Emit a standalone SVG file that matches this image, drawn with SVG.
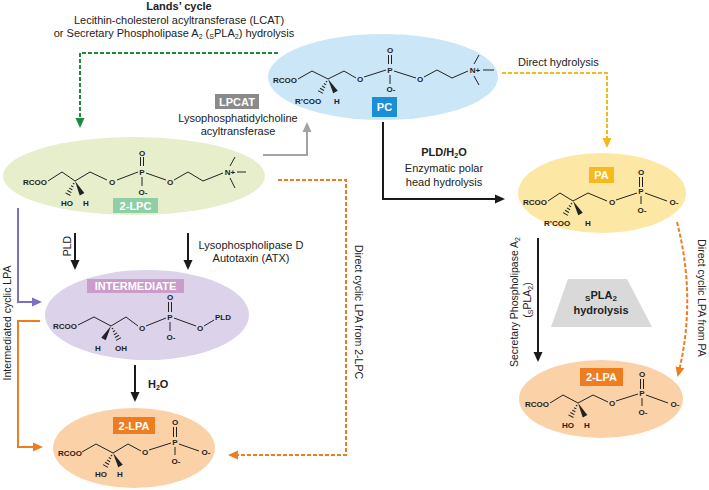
<svg xmlns="http://www.w3.org/2000/svg" xmlns:xlink="http://www.w3.org/1999/xlink" width="709" height="490" viewBox="0 0 709 490">
<style>
.t{font-family:"Liberation Sans",Arial,sans-serif;font-size:11px;fill:#222}
.tb{font-family:"Liberation Sans",Arial,sans-serif;font-size:11px;font-weight:bold;fill:#222}
.v{font-family:"Liberation Sans",Arial,sans-serif;font-size:10.5px;fill:#222}
.m{font-family:"Liberation Sans",Arial,sans-serif;font-size:8px;font-weight:bold;fill:#222;text-anchor:middle}
.ms{font-family:"Liberation Sans",Arial,sans-serif;font-size:8px;font-weight:bold;fill:#222}
.lb{font-family:"Liberation Sans",Arial,sans-serif;font-size:11px;font-weight:bold;fill:#fff;text-anchor:middle}
.b{fill:none;stroke:#222;stroke-width:1}
.c{fill:none;stroke-width:2}
.d{fill:none;stroke-width:2;stroke-dasharray:4 2}
</style>
<defs>
<marker id="aK" viewBox="0 0 10 10" refX="8" refY="5" markerWidth="10" markerHeight="10" markerUnits="userSpaceOnUse" orient="auto"><path d="M0,0.5 L10,5 L0,9.5 z" fill="#1a1a1a"/></marker>
<marker id="aG" viewBox="0 0 10 10" refX="8" refY="5" markerWidth="10" markerHeight="10" markerUnits="userSpaceOnUse" orient="auto"><path d="M0,0.5 L10,5 L0,9.5 z" fill="#a3a3a3"/></marker>
<marker id="aN" viewBox="0 0 10 10" refX="8" refY="5" markerWidth="10" markerHeight="10" markerUnits="userSpaceOnUse" orient="auto"><path d="M0,0.5 L10,5 L0,9.5 z" fill="#1b8c3c"/></marker>
<marker id="aY" viewBox="0 0 10 10" refX="8" refY="5" markerWidth="10" markerHeight="10" markerUnits="userSpaceOnUse" orient="auto"><path d="M0,0.5 L10,5 L0,9.5 z" fill="#f2b81c"/></marker>
<marker id="aO" viewBox="0 0 10 10" refX="8" refY="5" markerWidth="10" markerHeight="10" markerUnits="userSpaceOnUse" orient="auto"><path d="M0,0.5 L10,5 L0,9.5 z" fill="#ee7d22"/></marker>
<marker id="aP" viewBox="0 0 10 10" refX="8" refY="5" markerWidth="10" markerHeight="10" markerUnits="userSpaceOnUse" orient="auto"><path d="M0,0.5 L10,5 L0,9.5 z" fill="#7d70c0"/></marker>
<path id="hw" d="M-0.8,3 H0.8 M-1.3,6 H1.3 M-1.8,9 H1.8 M-2.3,12 H2.3 M-2.8,15 H2.8" stroke="#222" stroke-width="1" fill="none"/>
<polygon id="bw" points="0,0 -2.6,15 2.6,15" fill="#222"/>
</defs>

<!-- top texts -->
<g id="top-labels">
<text class="tb" x="179" y="10" text-anchor="middle">Lands’ cycle</text>
<text class="t" x="179" y="24" text-anchor="middle">Lecithin-cholesterol acyltransferase (LCAT)</text>
<text class="t" x="174" y="37" text-anchor="middle">or Secretary Phospholipase A<tspan font-size="7" dy="2">2</tspan><tspan dy="-2"> (</tspan><tspan font-size="7" dy="2">S</tspan><tspan dy="-2">PLA</tspan><tspan font-size="7" dy="2">2</tspan><tspan dy="-2">) hydrolysis</tspan></text>
</g>

<g id="connectors">
<path class="d" stroke="#1b8c3c" d="M278,53 H80 V126" marker-end="url(#aN)"/>
<path class="d" stroke="#f2b81c" d="M502,73 H607 V146" marker-end="url(#aY)"/>
<path class="d" stroke="#ee7d22" d="M278,180 H346 V455 H230" marker-end="url(#aO)"/>
<path class="d" stroke="#ee7d22" d="M677,222 Q697,300 678,375" marker-end="url(#aO)"/>
<path class="c" stroke="#a3a3a3" d="M263,155 H307 V124" marker-end="url(#aG)"/>
<path class="c" stroke="#7d70c0" d="M18,208 V302 H40" marker-end="url(#aP)"/>
<path class="c" stroke="#ee7d22" d="M40,321 H18 V447 H41" marker-end="url(#aO)"/>
<path class="c" stroke="#1a1a1a" d="M75,233 V268" marker-end="url(#aK)"/>
<path class="c" stroke="#1a1a1a" d="M188,233 V268" marker-end="url(#aK)"/>
<path class="c" stroke="#1a1a1a" d="M135,365 V400" marker-end="url(#aK)"/>
<path class="c" stroke="#1a1a1a" d="M383,122 V199 H503" marker-end="url(#aK)"/>
<path class="c" stroke="#1a1a1a" d="M538,238 V360" marker-end="url(#aK)"/>

<text class="t" x="518" y="66">Direct hydrolysis</text>
<rect x="215" y="94" width="44" height="15" fill="#8a8a8a"/>
<text class="lb" x="237" y="105.5">LPCAT</text>
<text class="t" x="238" y="122" text-anchor="middle">Lysophosphatidylcholine</text>
<text class="t" x="238" y="135" text-anchor="middle">acyltransferase</text>
<text class="tb" x="444" y="156" text-anchor="middle">PLD/H<tspan font-size="7" dy="2">2</tspan><tspan dy="-2">O</tspan></text>
<text class="t" x="444" y="172" text-anchor="middle">Enzymatic polar</text>
<text class="t" x="444" y="186" text-anchor="middle">head hydrolysis</text>
<text class="t" x="251" y="249" text-anchor="middle">Lysophospholipase D</text>
<text class="t" x="251" y="262" text-anchor="middle">Autotaxin (ATX)</text>
<text class="v" transform="translate(71,246) rotate(-90)" text-anchor="middle">PLD</text>
<text class="tb" x="148" y="388">H<tspan font-size="7" dy="2">2</tspan><tspan dy="-2">O</tspan></text>
<text class="v" transform="translate(11,323) rotate(-90)" text-anchor="middle">Intermediated cyclic LPA</text>
<text class="v" transform="translate(355,312) rotate(90)" text-anchor="middle">Direct cyclic LPA from 2-LPC</text>
<text class="v" transform="translate(698,298) rotate(90)" text-anchor="middle">Direct cyclic LPA from PA</text>
<text class="v" transform="translate(518,302) rotate(-90)" text-anchor="middle">Secretary Phospholipase A<tspan font-size="7" dy="2">2</tspan></text>
<text class="v" transform="translate(531,300) rotate(-90)" text-anchor="middle">(<tspan font-size="7" dy="2">S</tspan><tspan dy="-2">PLA</tspan><tspan font-size="7" dy="2">2</tspan><tspan dy="-2">)</tspan></text>
<polygon points="568,279 627,279 652,327 551,327" fill="#d9d9d9"/>
<text class="tb" x="601" y="299" text-anchor="middle" font-size="14"><tspan font-size="8" dy="2">S</tspan><tspan dy="-2">PLA</tspan><tspan font-size="8" dy="2">2</tspan></text>
<text class="tb" x="601" y="314" text-anchor="middle" font-size="14">hydrolysis</text>
</g>

<g id="pc">
<ellipse cx="383" cy="77" rx="115" ry="43" fill="#cbe6f7"/>
<path class="b" d="M298,79 L312,71 L328,79 L344,71 L356,78 M364,77 L386,70 M394,71 L416,78 M424,77 L437,70 L452,78 L468,71 M388.5,55 V64 M391.5,55 V64 M390,75 V84 M474,64 L479,55 M483,70 H494 M474,76 L479,85"/>
<use xlink:href="#hw" href="#hw" transform="translate(328,79) rotate(30)"/>
<use xlink:href="#bw" href="#bw" transform="translate(328,79) rotate(-30)"/>
<text class="ms" x="273" y="83">RCOO</text>
<text class="m" x="360" y="82">O</text>
<text class="m" x="390" y="73">P</text>
<text class="m" x="390" y="53">O</text>
<text class="m" x="391" y="92">O-</text>
<text class="m" x="420" y="82">O</text>
<text class="m" x="475" y="73">N+</text>
<text class="m" x="308" y="104">R’COO</text>
<text class="m" x="337" y="104">H</text>
<rect x="372" y="97" width="25" height="20" fill="#1a8fd6"/>
<text class="lb" x="384.5" y="111" font-size="12">PC</text>
</g>

<g id="lpc">
<ellipse cx="134" cy="176" rx="131" ry="39" fill="#e6eecb"/>
<path class="b" d="M48,181 L62,172 L75,181 L90,172 L107,180 M117,180 L138,172 M146,173 L166,180 M174,180 L188,172 L203,181 L223,173 M140.5,157 V166 M143.5,157 V166 M142,177 V186 M230,166 L235,157 M237,172 H246 M230,178 L235,188"/>
<use xlink:href="#hw" href="#hw" transform="translate(75,181) rotate(28)"/>
<use xlink:href="#bw" href="#bw" transform="translate(75,181) rotate(-28)"/>
<text class="ms" x="23" y="185">RCOO</text>
<text class="m" x="112" y="185">O</text>
<text class="m" x="142" y="175">P</text>
<text class="m" x="142" y="156">O</text>
<text class="m" x="143" y="195">O-</text>
<text class="m" x="170" y="185">O</text>
<text class="m" x="230" y="175">N+</text>
<text class="m" x="67" y="206">HO</text>
<text class="m" x="86" y="206">H</text>
<rect x="113" y="198" width="45" height="15" fill="#8fcfa5"/>
<text class="lb" x="135.5" y="209.5">2-LPC</text>
</g>

<g id="intermediate">
<ellipse cx="147" cy="315" rx="102" ry="45" fill="#dcd2ea"/>
<path class="b" d="M78,325 L94,317 L111,326 L126,317 L138,326 M146,326 L166,318 M174,318 L196,326 M204,326 L214,320 M168.5,302 V312 M171.5,302 V312 M170,322 V331"/>
<use xlink:href="#bw" href="#bw" transform="translate(111,326) rotate(30)"/>
<use xlink:href="#hw" href="#hw" transform="translate(111,326) rotate(-30)"/>
<text class="ms" x="53" y="329">RCOO</text>
<text class="m" x="142" y="331">O</text>
<text class="m" x="170" y="320">P</text>
<text class="m" x="170" y="300">O</text>
<text class="m" x="171" y="340">O-</text>
<text class="m" x="200" y="331">O</text>
<text class="ms" x="215" y="320">PLD</text>
<text class="m" x="98" y="351">H</text>
<text class="m" x="121" y="351">OH</text>
<rect x="87" y="279" width="97" height="14" fill="#c99cc9"/>
<text class="lb" x="135.5" y="290">INTERMEDIATE</text>
</g>

<g id="lpa-left">
<ellipse cx="134" cy="448" rx="81" ry="40" fill="#fbd1a8"/>
<path class="b" d="M82,452 L96,444 L113,453 L128,444 L141,451 M149,450 L171,443 M179,444 L199,451 M173.5,427 V437 M176.5,427 V437 M175,447 V455"/>
<use xlink:href="#hw" href="#hw" transform="translate(113,453) rotate(30)"/>
<use xlink:href="#bw" href="#bw" transform="translate(113,453) rotate(-30)"/>
<text class="ms" x="58" y="456">RCOO</text>
<text class="m" x="145" y="455">O</text>
<text class="m" x="175" y="445">P</text>
<text class="m" x="175" y="425">O</text>
<text class="m" x="176" y="464">O-</text>
<text class="m" x="206" y="455">O-</text>
<text class="m" x="101" y="477">HO</text>
<text class="m" x="120" y="477">H</text>
<rect x="113" y="417" width="42" height="17" fill="#ee7d22"/>
<text class="lb" x="134" y="429.5">2-LPA</text>
</g>

<g id="pa">
<ellipse cx="602" cy="193" rx="84" ry="40" fill="#fce7a4"/>
<path class="b" d="M548,201 L560,193 L573,201 L588,193 L607,201 M616,200 L637,193 M645,193 L667,201 M639.5,177 V187 M642.5,177 V187 M641,196 V204"/>
<use xlink:href="#hw" href="#hw" transform="translate(573,201) rotate(30)"/>
<use xlink:href="#bw" href="#bw" transform="translate(573,201) rotate(-30)"/>
<text class="ms" x="523" y="205">RCOO</text>
<text class="m" x="612" y="205">O</text>
<text class="m" x="641" y="194">P</text>
<text class="m" x="641" y="175">O</text>
<text class="m" x="642" y="213">O-</text>
<text class="m" x="674" y="205">O-</text>
<text class="m" x="557" y="226">R’COO</text>
<text class="m" x="588" y="226">H</text>
<rect x="589" y="167" width="25" height="16" fill="#f6b91e"/>
<text class="lb" x="601.5" y="179">PA</text>
</g>

<g id="lpa-right">
<ellipse cx="601" cy="399" rx="82" ry="39" fill="#fbd1a8"/>
<path class="b" d="M550,403 L563,395 L578,403 L593,395 L608,402 M616,401 L638,394 M646,395 L668,403 M640.5,379 V389 M643.5,379 V389 M642,398 V406"/>
<use xlink:href="#hw" href="#hw" transform="translate(578,403) rotate(28)"/>
<use xlink:href="#bw" href="#bw" transform="translate(578,403) rotate(-28)"/>
<text class="ms" x="525" y="407">RCOO</text>
<text class="m" x="612" y="406">O</text>
<text class="m" x="642" y="396">P</text>
<text class="m" x="642" y="377">O</text>
<text class="m" x="643" y="415">O-</text>
<text class="m" x="675" y="407">O-</text>
<text class="m" x="568" y="428">HO</text>
<text class="m" x="587" y="428">H</text>
<rect x="580" y="368" width="43" height="18" fill="#ee7d22"/>
<text class="lb" x="601.5" y="381">2-LPA</text>
</g>
</svg>
